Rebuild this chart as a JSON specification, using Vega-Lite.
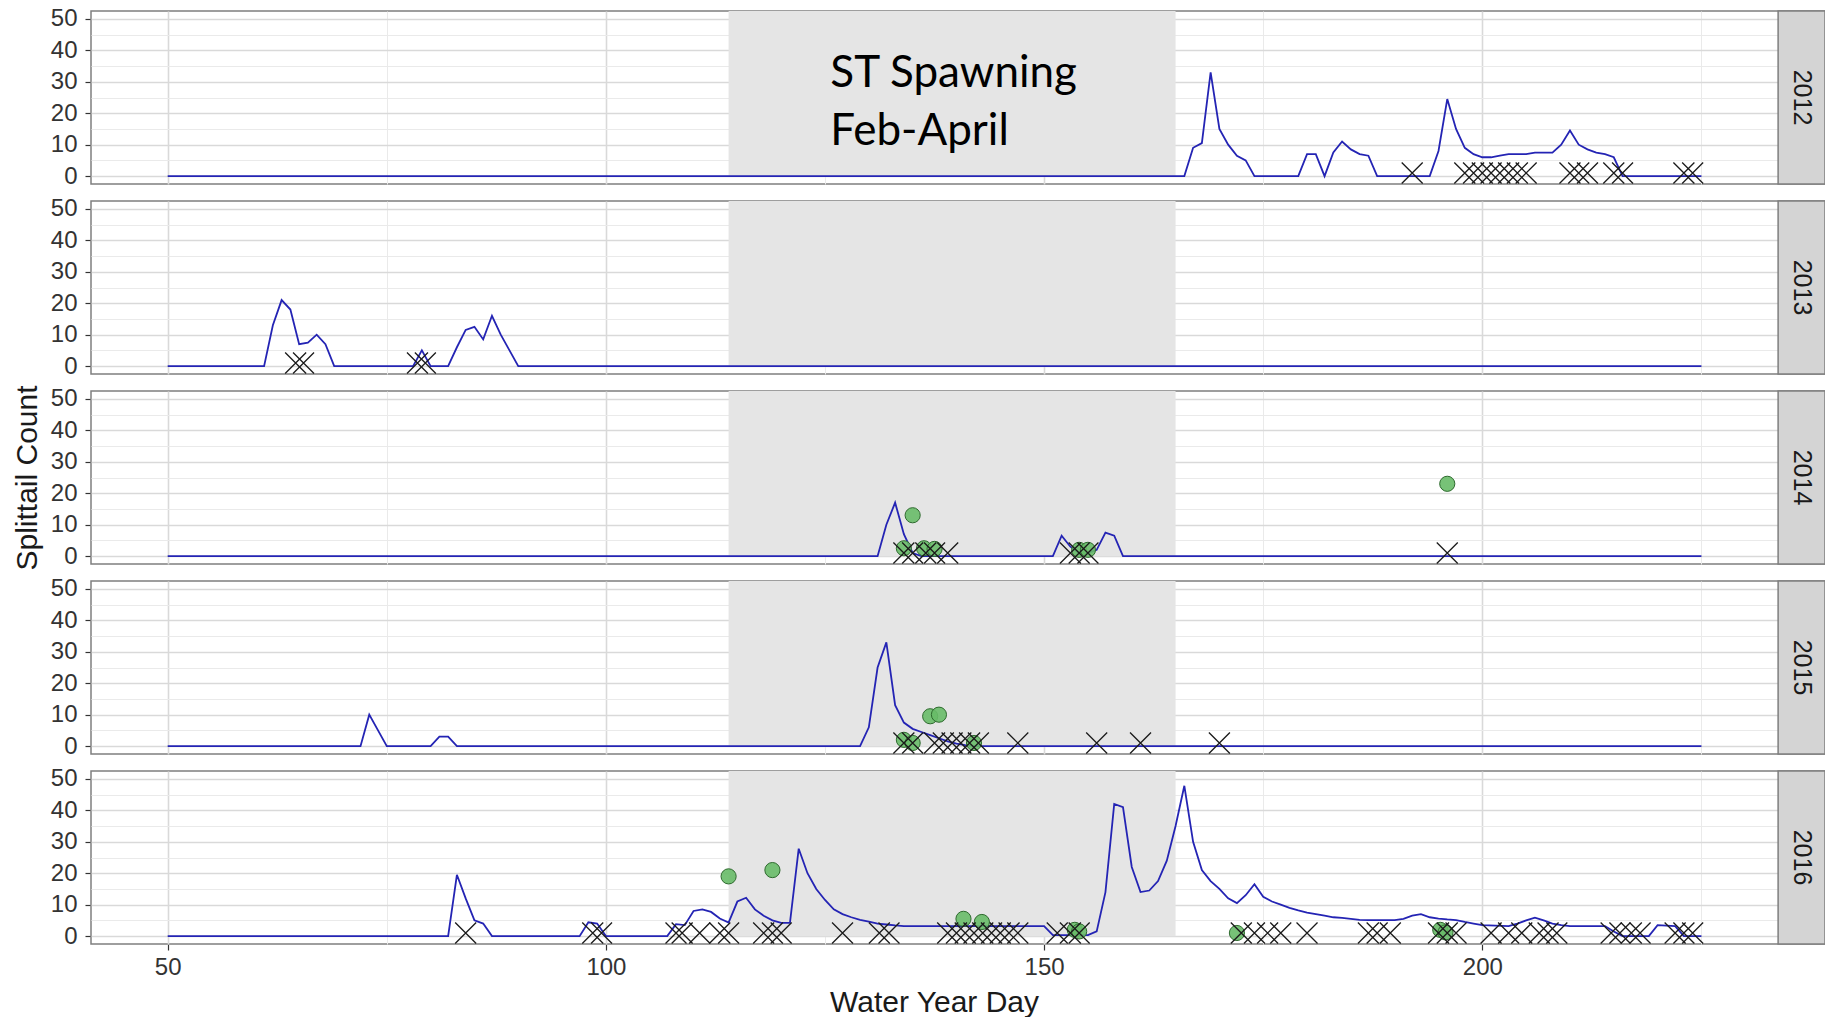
{
  "$schema": "https://vega.github.io/schema/vega-lite/v6.json",
  "background": "white",
  "padding": {"left": 12, "top": 6, "right": 0, "bottom": 0},
  "autosize": {"type": "pad"},
  "bounds": "flush",
  "data": {"values": [
    {"y":2012,"k":"S","d":114,"d2":165,"c":0},{"y":2013,"k":"S","d":114,"d2":165,"c":0},{"y":2014,"k":"S","d":114,"d2":165,"c":0},{"y":2015,"k":"S","d":114,"d2":165,"c":0},{"y":2016,"k":"S","d":114,"d2":165,"c":0},
    {"y":2012,"k":"T"},{"y":2013,"k":"T"},{"y":2014,"k":"T"},{"y":2015,"k":"T"},{"y":2016,"k":"T"},
    {"y":2012,"k":"N"},
    {"y":2012,"k":"L","d":50,"c":0},{"y":2012,"k":"L","d":166,"c":0},{"y":2012,"k":"L","d":167,"c":9},{"y":2012,"k":"L","d":168,"c":10.5},{"y":2012,"k":"L","d":169,"c":33},{"y":2012,"k":"L","d":170,"c":15},{"y":2012,"k":"L","d":171,"c":10},{"y":2012,"k":"L","d":172,"c":6.5},{"y":2012,"k":"L","d":173,"c":5},{"y":2012,"k":"L","d":174,"c":0},{"y":2012,"k":"L","d":179,"c":0},{"y":2012,"k":"L","d":180,"c":7},{"y":2012,"k":"L","d":181,"c":7},{"y":2012,"k":"L","d":182,"c":0},{"y":2012,"k":"L","d":183,"c":7.5},{"y":2012,"k":"L","d":184,"c":11},{"y":2012,"k":"L","d":185,"c":8.5},{"y":2012,"k":"L","d":186,"c":7},{"y":2012,"k":"L","d":187,"c":6.5},{"y":2012,"k":"L","d":188,"c":0},{"y":2012,"k":"L","d":194,"c":0},{"y":2012,"k":"L","d":195,"c":8},{"y":2012,"k":"L","d":196,"c":24.5},{"y":2012,"k":"L","d":197,"c":15},{"y":2012,"k":"L","d":198,"c":9},{"y":2012,"k":"L","d":199,"c":7},{"y":2012,"k":"L","d":200,"c":6},{"y":2012,"k":"L","d":201,"c":6},{"y":2012,"k":"L","d":202,"c":6.5},{"y":2012,"k":"L","d":203,"c":7},{"y":2012,"k":"L","d":204,"c":7},{"y":2012,"k":"L","d":205,"c":7},{"y":2012,"k":"L","d":206,"c":7.5},{"y":2012,"k":"L","d":207,"c":7.5},{"y":2012,"k":"L","d":208,"c":7.5},{"y":2012,"k":"L","d":209,"c":10},{"y":2012,"k":"L","d":210,"c":14.5},{"y":2012,"k":"L","d":211,"c":10},{"y":2012,"k":"L","d":212,"c":8.5},{"y":2012,"k":"L","d":213,"c":7.5},{"y":2012,"k":"L","d":214,"c":7},{"y":2012,"k":"L","d":215,"c":6},{"y":2012,"k":"L","d":216,"c":0},{"y":2012,"k":"L","d":225,"c":0},
    {"y":2013,"k":"L","d":50,"c":0},{"y":2013,"k":"L","d":61,"c":0},{"y":2013,"k":"L","d":62,"c":13},{"y":2013,"k":"L","d":63,"c":21},{"y":2013,"k":"L","d":64,"c":18},{"y":2013,"k":"L","d":65,"c":7},{"y":2013,"k":"L","d":66,"c":7.5},{"y":2013,"k":"L","d":67,"c":10},{"y":2013,"k":"L","d":68,"c":7},{"y":2013,"k":"L","d":69,"c":0},{"y":2013,"k":"L","d":78,"c":0},{"y":2013,"k":"L","d":79,"c":5},{"y":2013,"k":"L","d":80,"c":0},{"y":2013,"k":"L","d":82,"c":0},{"y":2013,"k":"L","d":83,"c":6},{"y":2013,"k":"L","d":84,"c":11.5},{"y":2013,"k":"L","d":85,"c":12.5},{"y":2013,"k":"L","d":86,"c":8.5},{"y":2013,"k":"L","d":87,"c":16},{"y":2013,"k":"L","d":88,"c":10},{"y":2013,"k":"L","d":89,"c":5},{"y":2013,"k":"L","d":90,"c":0},{"y":2013,"k":"L","d":225,"c":0},
    {"y":2014,"k":"L","d":50,"c":0},{"y":2014,"k":"L","d":131,"c":0},{"y":2014,"k":"L","d":132,"c":10},{"y":2014,"k":"L","d":133,"c":17},{"y":2014,"k":"L","d":134,"c":7},{"y":2014,"k":"L","d":135,"c":1},{"y":2014,"k":"L","d":136,"c":0},{"y":2014,"k":"L","d":151,"c":0},{"y":2014,"k":"L","d":152,"c":6.5},{"y":2014,"k":"L","d":153,"c":3},{"y":2014,"k":"L","d":154,"c":1},{"y":2014,"k":"L","d":155,"c":1},{"y":2014,"k":"L","d":156,"c":2},{"y":2014,"k":"L","d":157,"c":7.5},{"y":2014,"k":"L","d":158,"c":6.5},{"y":2014,"k":"L","d":159,"c":0},{"y":2014,"k":"L","d":225,"c":0},
    {"y":2015,"k":"L","d":50,"c":0},{"y":2015,"k":"L","d":72,"c":0},{"y":2015,"k":"L","d":73,"c":10},{"y":2015,"k":"L","d":74,"c":5},{"y":2015,"k":"L","d":75,"c":0},{"y":2015,"k":"L","d":80,"c":0},{"y":2015,"k":"L","d":81,"c":3},{"y":2015,"k":"L","d":82,"c":3},{"y":2015,"k":"L","d":83,"c":0},{"y":2015,"k":"L","d":129,"c":0},{"y":2015,"k":"L","d":130,"c":6},{"y":2015,"k":"L","d":131,"c":25},{"y":2015,"k":"L","d":132,"c":33},{"y":2015,"k":"L","d":133,"c":13},{"y":2015,"k":"L","d":134,"c":7.5},{"y":2015,"k":"L","d":135,"c":5.5},{"y":2015,"k":"L","d":136,"c":4.5},{"y":2015,"k":"L","d":137,"c":3.5},{"y":2015,"k":"L","d":138,"c":2.5},{"y":2015,"k":"L","d":139,"c":1.5},{"y":2015,"k":"L","d":140,"c":0.8},{"y":2015,"k":"L","d":141,"c":0.3},{"y":2015,"k":"L","d":142,"c":0},{"y":2015,"k":"L","d":225,"c":0},
    {"y":2016,"k":"L","d":50,"c":0},{"y":2016,"k":"L","d":82,"c":0},{"y":2016,"k":"L","d":83,"c":19.5},{"y":2016,"k":"L","d":84,"c":12},{"y":2016,"k":"L","d":85,"c":5},{"y":2016,"k":"L","d":86,"c":4},{"y":2016,"k":"L","d":87,"c":0},{"y":2016,"k":"L","d":97,"c":0},{"y":2016,"k":"L","d":98,"c":4.4},{"y":2016,"k":"L","d":99,"c":4},{"y":2016,"k":"L","d":100,"c":0},{"y":2016,"k":"L","d":107,"c":0},{"y":2016,"k":"L","d":108,"c":3.8},{"y":2016,"k":"L","d":109,"c":3.5},{"y":2016,"k":"L","d":110,"c":8},{"y":2016,"k":"L","d":111,"c":8.5},{"y":2016,"k":"L","d":112,"c":7.7},{"y":2016,"k":"L","d":113,"c":5.6},{"y":2016,"k":"L","d":114,"c":4.3},{"y":2016,"k":"L","d":115,"c":11},{"y":2016,"k":"L","d":116,"c":12.2},{"y":2016,"k":"L","d":117,"c":8.5},{"y":2016,"k":"L","d":118,"c":6.5},{"y":2016,"k":"L","d":119,"c":5},{"y":2016,"k":"L","d":120,"c":4.2},{"y":2016,"k":"L","d":121,"c":4.2},{"y":2016,"k":"L","d":122,"c":27.8},{"y":2016,"k":"L","d":123,"c":20},{"y":2016,"k":"L","d":124,"c":15},{"y":2016,"k":"L","d":125,"c":11.5},{"y":2016,"k":"L","d":126,"c":8.5},{"y":2016,"k":"L","d":127,"c":7},{"y":2016,"k":"L","d":128,"c":6},{"y":2016,"k":"L","d":129,"c":5.2},{"y":2016,"k":"L","d":130,"c":4.6},{"y":2016,"k":"L","d":131,"c":4},{"y":2016,"k":"L","d":132,"c":3.7},{"y":2016,"k":"L","d":133,"c":3.4},{"y":2016,"k":"L","d":134,"c":3.2},{"y":2016,"k":"L","d":150,"c":3.2},{"y":2016,"k":"L","d":151,"c":0.3},{"y":2016,"k":"L","d":155,"c":0.3},{"y":2016,"k":"L","d":156,"c":1.5},{"y":2016,"k":"L","d":157,"c":14},{"y":2016,"k":"L","d":158,"c":42},{"y":2016,"k":"L","d":159,"c":41},{"y":2016,"k":"L","d":160,"c":22},{"y":2016,"k":"L","d":161,"c":14},{"y":2016,"k":"L","d":162,"c":14.5},{"y":2016,"k":"L","d":163,"c":17.5},{"y":2016,"k":"L","d":164,"c":24},{"y":2016,"k":"L","d":165,"c":35},{"y":2016,"k":"L","d":166,"c":47.8},{"y":2016,"k":"L","d":167,"c":30},{"y":2016,"k":"L","d":168,"c":21},{"y":2016,"k":"L","d":169,"c":17.5},{"y":2016,"k":"L","d":170,"c":15},{"y":2016,"k":"L","d":171,"c":12},{"y":2016,"k":"L","d":172,"c":10.5},{"y":2016,"k":"L","d":173,"c":13},{"y":2016,"k":"L","d":174,"c":16.5},{"y":2016,"k":"L","d":175,"c":12.5},{"y":2016,"k":"L","d":176,"c":11},{"y":2016,"k":"L","d":177,"c":10},{"y":2016,"k":"L","d":178,"c":9},{"y":2016,"k":"L","d":179,"c":8.2},{"y":2016,"k":"L","d":180,"c":7.5},{"y":2016,"k":"L","d":181,"c":7},{"y":2016,"k":"L","d":182,"c":6.5},{"y":2016,"k":"L","d":183,"c":6},{"y":2016,"k":"L","d":184,"c":5.8},{"y":2016,"k":"L","d":185,"c":5.5},{"y":2016,"k":"L","d":186,"c":5.2},{"y":2016,"k":"L","d":187,"c":5.1},{"y":2016,"k":"L","d":190,"c":5.1},{"y":2016,"k":"L","d":191,"c":5.5},{"y":2016,"k":"L","d":192,"c":6.5},{"y":2016,"k":"L","d":193,"c":7},{"y":2016,"k":"L","d":194,"c":6},{"y":2016,"k":"L","d":195,"c":5.6},{"y":2016,"k":"L","d":196,"c":5.3},{"y":2016,"k":"L","d":197,"c":5.1},{"y":2016,"k":"L","d":198,"c":4.5},{"y":2016,"k":"L","d":199,"c":4},{"y":2016,"k":"L","d":200,"c":3.5},{"y":2016,"k":"L","d":203,"c":3.2},{"y":2016,"k":"L","d":204,"c":4},{"y":2016,"k":"L","d":205,"c":5},{"y":2016,"k":"L","d":206,"c":5.9},{"y":2016,"k":"L","d":207,"c":5},{"y":2016,"k":"L","d":208,"c":4},{"y":2016,"k":"L","d":209,"c":3.5},{"y":2016,"k":"L","d":210,"c":3.2},{"y":2016,"k":"L","d":214,"c":3.2},{"y":2016,"k":"L","d":215,"c":1.5},{"y":2016,"k":"L","d":216,"c":0},{"y":2016,"k":"L","d":219,"c":0},{"y":2016,"k":"L","d":220,"c":3.5},{"y":2016,"k":"L","d":222,"c":3.2},{"y":2016,"k":"L","d":223,"c":0},{"y":2016,"k":"L","d":225,"c":0},
    {"y":2012,"k":"X","d":192,"c":1},{"y":2012,"k":"X","d":198,"c":1},{"y":2012,"k":"X","d":199,"c":1},{"y":2012,"k":"X","d":200,"c":1},{"y":2012,"k":"X","d":201,"c":1},{"y":2012,"k":"X","d":202,"c":1},{"y":2012,"k":"X","d":203,"c":1},{"y":2012,"k":"X","d":204,"c":1},{"y":2012,"k":"X","d":205,"c":1},{"y":2012,"k":"X","d":210,"c":1},{"y":2012,"k":"X","d":211,"c":1},{"y":2012,"k":"X","d":212,"c":1},{"y":2012,"k":"X","d":215,"c":1},{"y":2012,"k":"X","d":216,"c":1},{"y":2012,"k":"X","d":223,"c":1},{"y":2012,"k":"X","d":224,"c":1},
    {"y":2013,"k":"X","d":64.6,"c":1},{"y":2013,"k":"X","d":65.5,"c":1},{"y":2013,"k":"X","d":78.5,"c":1},{"y":2013,"k":"X","d":79.4,"c":1},
    {"y":2014,"k":"X","d":134,"c":1},{"y":2014,"k":"X","d":135,"c":1},{"y":2014,"k":"X","d":136.5,"c":1},{"y":2014,"k":"X","d":137.5,"c":1},{"y":2014,"k":"X","d":139,"c":1},{"y":2014,"k":"X","d":153,"c":1},{"y":2014,"k":"X","d":154,"c":1},{"y":2014,"k":"X","d":155,"c":1},{"y":2014,"k":"X","d":196,"c":1},
    {"y":2015,"k":"X","d":134,"c":1},{"y":2015,"k":"X","d":135,"c":1},{"y":2015,"k":"X","d":137.5,"c":1},{"y":2015,"k":"X","d":138.5,"c":1},{"y":2015,"k":"X","d":139.5,"c":1},{"y":2015,"k":"X","d":140.5,"c":1},{"y":2015,"k":"X","d":141.5,"c":1},{"y":2015,"k":"X","d":142.5,"c":1},{"y":2015,"k":"X","d":147,"c":1},{"y":2015,"k":"X","d":156,"c":1},{"y":2015,"k":"X","d":161,"c":1},{"y":2015,"k":"X","d":170,"c":1},
    {"y":2016,"k":"X","d":84,"c":1},{"y":2016,"k":"X","d":98.5,"c":1},{"y":2016,"k":"X","d":99.5,"c":1},{"y":2016,"k":"X","d":108,"c":1},{"y":2016,"k":"X","d":108.7,"c":1},{"y":2016,"k":"X","d":110.7,"c":1},{"y":2016,"k":"X","d":113,"c":1},{"y":2016,"k":"X","d":114,"c":1},{"y":2016,"k":"X","d":118,"c":1},{"y":2016,"k":"X","d":119,"c":1},{"y":2016,"k":"X","d":120,"c":1},{"y":2016,"k":"X","d":127,"c":1},{"y":2016,"k":"X","d":131.2,"c":1},{"y":2016,"k":"X","d":132.3,"c":1},{"y":2016,"k":"X","d":139,"c":1},{"y":2016,"k":"X","d":140,"c":1},{"y":2016,"k":"X","d":141,"c":1},{"y":2016,"k":"X","d":142,"c":1},{"y":2016,"k":"X","d":143,"c":1},{"y":2016,"k":"X","d":144,"c":1},{"y":2016,"k":"X","d":145,"c":1},{"y":2016,"k":"X","d":146,"c":1},{"y":2016,"k":"X","d":147,"c":1},{"y":2016,"k":"X","d":151.5,"c":1},{"y":2016,"k":"X","d":153,"c":1},{"y":2016,"k":"X","d":154,"c":1},{"y":2016,"k":"X","d":172.5,"c":1},{"y":2016,"k":"X","d":174,"c":1},{"y":2016,"k":"X","d":175.5,"c":1},{"y":2016,"k":"X","d":177,"c":1},{"y":2016,"k":"X","d":180,"c":1},{"y":2016,"k":"X","d":187,"c":1},{"y":2016,"k":"X","d":188,"c":1},{"y":2016,"k":"X","d":189.5,"c":1},{"y":2016,"k":"X","d":195,"c":1},{"y":2016,"k":"X","d":196,"c":1},{"y":2016,"k":"X","d":197,"c":1},{"y":2016,"k":"X","d":201,"c":1},{"y":2016,"k":"X","d":203,"c":1},{"y":2016,"k":"X","d":204.5,"c":1},{"y":2016,"k":"X","d":206.5,"c":1},{"y":2016,"k":"X","d":207.5,"c":1},{"y":2016,"k":"X","d":208.5,"c":1},{"y":2016,"k":"X","d":214.7,"c":1},{"y":2016,"k":"X","d":215.7,"c":1},{"y":2016,"k":"X","d":217,"c":1},{"y":2016,"k":"X","d":218,"c":1},{"y":2016,"k":"X","d":222,"c":1},{"y":2016,"k":"X","d":223,"c":1},{"y":2016,"k":"X","d":224,"c":1},
    {"y":2014,"k":"O","d":134,"c":2.5},{"y":2014,"k":"O","d":135,"c":13},{"y":2014,"k":"O","d":136.3,"c":2.5},{"y":2014,"k":"O","d":137.5,"c":2.3},{"y":2014,"k":"O","d":154,"c":2},{"y":2014,"k":"O","d":155,"c":2},{"y":2014,"k":"O","d":196,"c":23},
    {"y":2015,"k":"O","d":134,"c":2},{"y":2015,"k":"O","d":135,"c":1},{"y":2015,"k":"O","d":137,"c":9.5},{"y":2015,"k":"O","d":138,"c":10},{"y":2015,"k":"O","d":142,"c":1},
    {"y":2016,"k":"O","d":114,"c":19},{"y":2016,"k":"O","d":119,"c":21},{"y":2016,"k":"O","d":140.8,"c":5.5},{"y":2016,"k":"O","d":142.9,"c":4.5},{"y":2016,"k":"O","d":153.5,"c":2},{"y":2016,"k":"O","d":154,"c":1.5},{"y":2016,"k":"O","d":172,"c":1},{"y":2016,"k":"O","d":195.2,"c":2},{"y":2016,"k":"O","d":195.8,"c":1.2}
  ]},
  "facet": {
    "row": {
      "field": "y", "type": "ordinal", "title": "Splittail Count",
      "header": {"labels": false, "titleOrient": "left", "titleFontSize": 30, "titleFont": "Liberation Sans", "titleFontWeight": "normal", "titleColor": "#1a1a1a", "titlePadding": -3}
    }
  },
  "spacing": {"row": 17},
  "spec": {
    "width": 1734,
    "height": 173,
    "layer": [
      {
        "transform": [{"filter": "datum.k === 'S'"}],
        "mark": {"type": "rect", "color": "#e5e5e5"},
        "encoding": {
          "x": {"field": "d", "type": "quantitative", "scale": {"domain": [41.25, 239.1], "nice": false, "zero": false},
            "axis": {"title": "Water Year Day", "titleX": 843, "values": [50, 75, 100, 125, 150, 175, 200, 225], "grid": true,
              "labelExpr": "datum.value % 50 === 0 ? datum.label : ''", "labelOverlap": false,
              "gridColor": {"condition": {"test": "datum.value % 50 === 0", "value": "#d9d9d9"}, "value": "#eaeaea"},
              "gridWidth": {"condition": {"test": "datum.value % 50 === 0", "value": 1.6}, "value": 1},
              "tickOpacity": {"condition": {"test": "datum.value % 50 === 0", "value": 1}, "value": 0},
              "labelPadding": 5, "titlePadding": 8}},
          "x2": {"field": "d2"},
          "y": {"field": "c", "type": "quantitative", "scale": {"domain": [-2.5, 52.5], "nice": false, "zero": false},
            "axis": {"title": null, "values": [0, 5, 10, 15, 20, 25, 30, 35, 40, 45, 50], "tickCount": 11, "grid": true,
              "labelExpr": "datum.value % 10 === 0 ? datum.label : ''", "labelOverlap": false,
              "gridColor": {"condition": {"test": "datum.value % 10 === 0", "value": "#d9d9d9"}, "value": "#eaeaea"},
              "gridWidth": {"condition": {"test": "datum.value % 10 === 0", "value": 1.6}, "value": 1},
              "tickOpacity": {"condition": {"test": "datum.value % 10 === 0", "value": 1}, "value": 0},
              "labelPadding": 8}},
          "y2": {"datum": 52.5}
        }
      },
      {
        "transform": [{"filter": "datum.k === 'L'"}],
        "mark": {"type": "line", "color": "#2424b4", "strokeWidth": 1.8},
        "encoding": {
          "x": {"field": "d", "type": "quantitative", "scale": {"domain": [41.25, 239.1], "nice": false, "zero": false}},
          "y": {"field": "c", "type": "quantitative", "scale": {"domain": [-2.5, 52.5], "nice": false, "zero": false}}
        }
      },
      {
        "transform": [{"filter": "datum.k === 'O'"}],
        "mark": {"type": "point", "shape": "circle", "filled": true, "fill": "#68bb68", "fillOpacity": 0.9, "stroke": "#2e6a2e", "strokeWidth": 1, "size": 230},
        "encoding": {
          "x": {"field": "d", "type": "quantitative", "scale": {"domain": [41.25, 239.1], "nice": false, "zero": false}},
          "y": {"field": "c", "type": "quantitative", "scale": {"domain": [-2.5, 52.5], "nice": false, "zero": false}}
        }
      },
      {
        "transform": [{"filter": "datum.k === 'X'"}],
        "mark": {"type": "point", "shape": "M-1,-1L1,1M-1,1L1,-1", "filled": false, "stroke": "#1a1a1a", "strokeWidth": 1.3, "size": 441, "opacity": 1},
        "encoding": {
          "x": {"field": "d", "type": "quantitative", "scale": {"domain": [41.25, 239.1], "nice": false, "zero": false}},
          "y": {"field": "c", "type": "quantitative", "scale": {"domain": [-2.5, 52.5], "nice": false, "zero": false}}
        }
      },
      {
        "transform": [{"filter": "datum.k === 'T'"}],
        "mark": {"type": "rect", "fill": "#d4d4d4", "stroke": "#7f7f7f", "strokeWidth": 1.5},
        "encoding": {
          "x": {"datum": 233.75, "type": "quantitative", "scale": {"domain": [41.25, 239.1], "nice": false, "zero": false}},
          "x2": {"datum": 239.1},
          "y": {"datum": -2.5, "type": "quantitative", "scale": {"domain": [-2.5, 52.5], "nice": false, "zero": false}},
          "y2": {"datum": 52.5}
        }
      },
      {
        "transform": [{"filter": "datum.k === 'T'"}],
        "mark": {"type": "text", "angle": 90, "font": "Liberation Sans", "fontSize": 25, "color": "#1a1a1a", "align": "center", "baseline": "middle"},
        "encoding": {
          "x": {"datum": 236.43, "type": "quantitative", "scale": {"domain": [41.25, 239.1], "nice": false, "zero": false}},
          "y": {"datum": 25, "type": "quantitative", "scale": {"domain": [-2.5, 52.5], "nice": false, "zero": false}},
          "text": {"field": "y", "type": "nominal"}
        }
      },
      {
        "transform": [{"filter": "datum.k === 'N'"}],
        "mark": {"type": "text", "text": ["ST Spawning", "Feb-April"], "lineHeight": 58, "font": "Lato", "fontSize": 44, "color": "#000000", "align": "left", "baseline": "middle"},
        "encoding": {
          "x": {"datum": 125.6, "type": "quantitative", "scale": {"domain": [41.25, 239.1], "nice": false, "zero": false}},
          "y": {"datum": 32.5, "type": "quantitative", "scale": {"domain": [-2.5, 52.5], "nice": false, "zero": false}}
        }
      }
    ]
  },
  "config": {
    "view": {"stroke": "#7f7f7f", "strokeWidth": 1.5},
    "axis": {"domain": false, "labelOverlap": false, "labelFont": "Liberation Sans", "labelFontSize": 24, "labelColor": "#333333",
      "titleFont": "Liberation Sans", "titleFontSize": 30, "titleFontWeight": "normal", "titleColor": "#1a1a1a",
      "tickColor": "#333333", "tickSize": 6, "tickWidth": 1.2}
  }
}
